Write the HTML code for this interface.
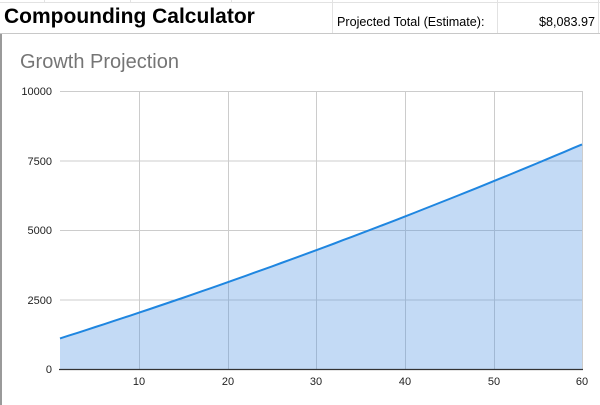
<!DOCTYPE html>
<html><head><style>
body{margin:0;width:600px;height:405px;overflow:hidden;background:#fff;font-family:"Liberation Sans",Arial,sans-serif;position:relative}
.a{position:absolute}
</style></head><body>
<div class="a" style="left:0;top:2px;width:600px;height:1px;background:#e2e2e2"></div>
<div class="a" style="left:0;top:33px;width:600px;height:1px;background:#c8c8c8"></div>
<div class="a" style="left:44px;top:0;width:1px;height:2px;background:#e2e2e2"></div>
<div class="a" style="left:130px;top:0;width:1px;height:2px;background:#e2e2e2"></div>
<div class="a" style="left:231px;top:0;width:1px;height:2px;background:#e2e2e2"></div>
<div class="a" style="left:332px;top:0;width:1px;height:33px;background:#e2e2e2"></div>
<div class="a" style="left:497px;top:0;width:1px;height:33px;background:#e2e2e2"></div>
<div class="a" style="left:598px;top:0;width:1px;height:33px;background:#e2e2e2"></div>
<div class="a" style="left:4px;top:5px;font-weight:bold;font-size:21px;color:#000">Compounding Calculator</div>
<div class="a" style="left:337px;top:15px;font-size:12.6px;color:#000">Projected Total (Estimate):</div>
<div class="a" style="left:500px;top:15px;width:95px;text-align:right;font-size:12.6px;color:#000">$8,083.97</div>
<div class="a" style="left:0;top:34px;width:2px;height:371px;background:#9a9a9a"></div>
<div class="a" style="left:20px;top:51px;font-size:20px;color:#757575">Growth Projection</div>
<svg class="a" style="left:0;top:0" width="600" height="405">
<g stroke="#cccccc" stroke-width="1">
<line x1="60" y1="91.5" x2="582" y2="91.5"/><line x1="60" y1="161" x2="582" y2="161"/>
<line x1="60" y1="230.5" x2="582" y2="230.5"/><line x1="60" y1="300" x2="582" y2="300"/>
<line x1="139.5" y1="91" x2="139.5" y2="369"/><line x1="228.5" y1="91" x2="228.5" y2="369"/>
<line x1="316.5" y1="91" x2="316.5" y2="369"/><line x1="405.5" y1="91" x2="405.5" y2="369"/>
<line x1="494.5" y1="91" x2="494.5" y2="369"/><line x1="582.5" y1="91" x2="582.5" y2="369"/>
</g>
<polygon id="ar" fill="#4a90e2" fill-opacity="0.33" points=""/>
<polyline id="ln" fill="none" stroke="#1f86e0" stroke-width="2" points=""/>
<line x1="59" y1="369.5" x2="583" y2="369.5" stroke="#333" stroke-width="1.2"/>
<g font-size="11" fill="#222" text-anchor="end">
<text x="52" y="95">10000</text><text x="52" y="165">7500</text><text x="52" y="234">5000</text><text x="52" y="304">2500</text><text x="52" y="373">0</text>
</g>
<g font-size="11" fill="#222" text-anchor="middle">
<text x="139" y="385">10</text><text x="228" y="385">20</text><text x="316" y="385">30</text><text x="405" y="385">40</text><text x="494" y="385">50</text><text x="582" y="385">60</text>
</g>
</svg>
<script>
var p=[];for(var n=1;n<=60;n++){var v=1100+101.2*(n-1)+0.29*(n-1)*(n-1);var x=60+(n-1)*522/59;var y=369-v*0.0278;p.push(x.toFixed(1)+","+y.toFixed(1));}
document.getElementById('ln').setAttribute('points',p.join(' '));
document.getElementById('ar').setAttribute('points',p.join(' ')+' 582,369 60,369');
</script>
</body></html>
